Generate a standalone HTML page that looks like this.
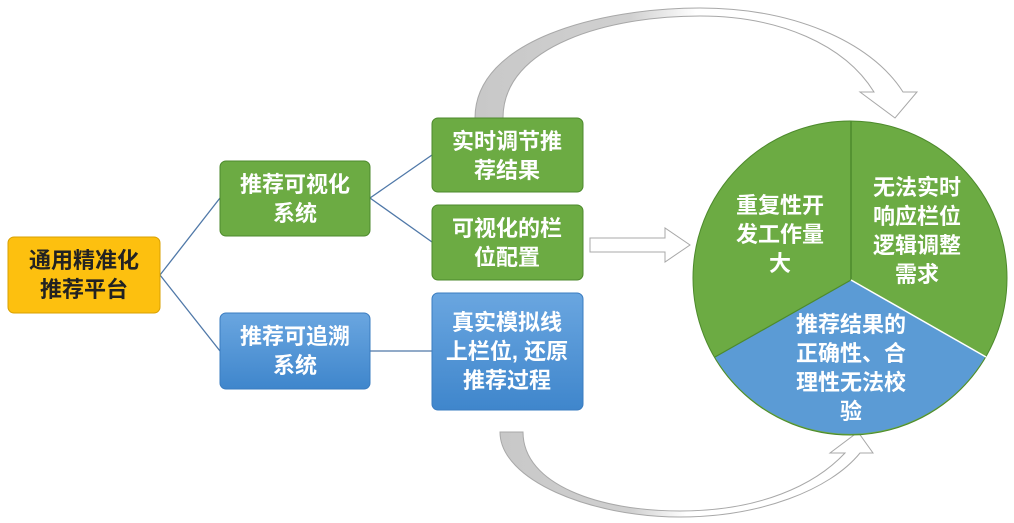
<!DOCTYPE html>
<html><head><meta charset="utf-8"><style>
body{margin:0;background:#fff;}
svg{display:block;}
text{font-family:"Liberation Sans","Noto Sans CJK SC",sans-serif;font-weight:bold;font-size:22px;text-anchor:middle;}
.w{fill:#fff;}
</style></head><body>
<svg width="1014" height="523" viewBox="0 0 1014 523" xmlns="http://www.w3.org/2000/svg">
<defs>
<linearGradient id="ga" x1="0" x2="1" y1="0" y2="0">
<stop offset="0" stop-color="#c8c8c8"/><stop offset="0.35" stop-color="#d0d0d0"/><stop offset="0.5" stop-color="#fff"/><stop offset="1" stop-color="#fff"/></linearGradient>
<linearGradient id="gb" x1="0" x2="0" y1="0" y2="1">
<stop offset="0" stop-color="#6aa6e0"/><stop offset="1" stop-color="#3f86cc"/></linearGradient>
</defs>
<g stroke="#4f78a8" stroke-width="1.3" fill="none">
<path d="M160,275 L220,198"/><path d="M160,275 L220,351"/>
<path d="M370,198 L432,155"/><path d="M370,198 L432,242"/>
<path d="M370,351 L432,351"/>
</g>
<path d="M475,118 C475,40 600,8 700,8 C790,8 870,40 903,92 L917,92 L895,118 L860,92 L874,92 C845,45 780,16 700,16 C610,16 503,45 503,118 Z" fill="url(#ga)" stroke="#a8a8a8" stroke-width="1"/>
<path d="M500,432 C500,480 590,517 680,517 C760,517 830,490 860,453 L873,453 L858,432 L830,453 L845,453 C815,485 760,511 680,511 C600,511 523,485 523,432 Z" fill="url(#ga)" stroke="#a8a8a8" stroke-width="1"/>
<path d="M590,238 L665,238 L665,228 L690,245 L665,262 L665,252 L590,252 Z" fill="#fff" stroke="#a8a8a8" stroke-width="1"/>
<rect x="8" y="237" width="152" height="76" rx="6" fill="#fdc00f" stroke="#d9a000"/>
<text x="84" y="268" fill="#222">通用精准化</text><text x="84" y="297" fill="#222">推荐平台</text>
<rect x="220" y="161" width="150" height="75" rx="6" fill="#6cab43" stroke="#4d8a2c"/>
<text class="w" x="295" y="192">推荐可视化</text><text class="w" x="295" y="221">系统</text>
<rect x="220" y="313" width="150" height="76" rx="6" fill="url(#gb)" stroke="#3a7cc0"/>
<text class="w" x="295" y="344">推荐可追溯</text><text class="w" x="295" y="373">系统</text>
<rect x="432" y="118" width="151" height="74" rx="6" fill="#6cab43" stroke="#4d8a2c"/>
<text class="w" x="507" y="149">实时调节推</text><text class="w" x="507" y="178">荐结果</text>
<rect x="432" y="205" width="151" height="75" rx="6" fill="#6cab43" stroke="#4d8a2c"/>
<text class="w" x="507" y="236">可视化的栏</text><text class="w" x="507" y="265">位配置</text>
<rect x="432" y="293" width="151" height="117" rx="6" fill="url(#gb)" stroke="#3a7cc0"/>
<text class="w" x="507" y="330">真实模拟线</text><text class="w" x="507" y="359">上栏位, 还原</text><text class="w" x="507" y="388">推荐过程</text>
<circle cx="850" cy="278" r="157" fill="#6cab43" stroke="#4d8a2c"/>
<path d="M851,280 L715,357 A157,157 0 0 0 985,357 Z" fill="#5b9bd5"/>
<path d="M851,121 L851,280" stroke="#4d8a2c" stroke-width="1.5"/>
<path d="M851,280 L715,357" stroke="#4d8a2c" stroke-width="1.2"/>
<path d="M851,280 L986,357" stroke="#fff" stroke-width="1.5"/>
<text class="w" x="780" y="213">重复性开</text><text class="w" x="780" y="242">发工作量</text><text class="w" x="780" y="271">大</text>
<text class="w" x="917" y="195">无法实时</text><text class="w" x="917" y="224">响应栏位</text><text class="w" x="917" y="253">逻辑调整</text><text class="w" x="917" y="282">需求</text>
<text class="w" x="851" y="332">推荐结果的</text><text class="w" x="851" y="361">正确性、合</text><text class="w" x="851" y="390">理性无法校</text><text class="w" x="851" y="419">验</text>
</svg>
</body></html>
